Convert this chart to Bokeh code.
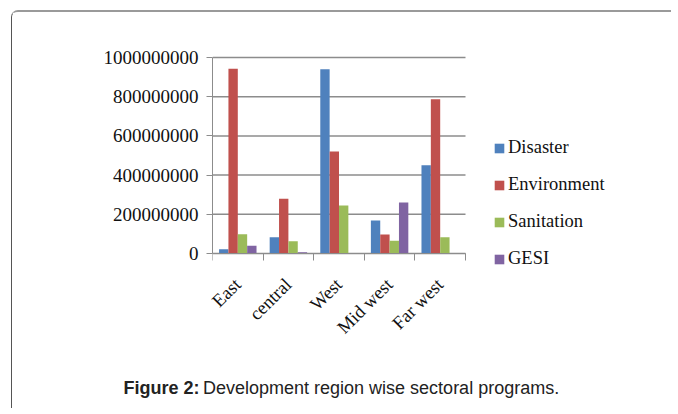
import numpy as np
from bokeh.plotting import figure
from bokeh.layouts import column
from bokeh.models import (Range1d, FixedTicker, Legend, LegendItem, ColumnDataSource, LinearAxis)
from bokeh.core.properties import value
from bokeh.embed import file_html
from bokeh.resources import INLINE

regions = ["East", "central", "West", "Mid west", "Far west"]
series = ["Disaster", "Environment", "Sanitation", "GESI"]
disaster = [22e6, 83e6, 940e6, 168e6, 450e6]
environment = [942e6, 279e6, 520e6, 97e6, 787e6]
sanitation = [98e6, 63e6, 245e6, 65e6, 83e6]
gesi = [39e6, 6e6, 2e6, 260e6, 3e6]
colors = ["#4F81BD", "#C0504D", "#9BBB59", "#8064A2"]
y_ticks = [0, 200000000, 400000000, 600000000, 800000000, 1000000000]
y_tick_labels = ["0", "200000000", "400000000", "600000000", "800000000", "1000000000"]
caption_bold = "Figure 2:"
caption_text = "Development region wise sectoral programs."

values = [disaster, environment, sanitation, gesi]

SERIF = "Liberation Serif"
GRID = "#8c8c8c"
W = 660
H = 358
LEFT = 200
TOP = 41
BOTTOM = 98
PLOT_W = 253          # pixel width of the bar area
PX_PER_UNIT = 196 / max(y_ticks)   # pixel height per value unit
frame_w = W - LEFT
frame_h = H - TOP - BOTTOM
x_end = len(regions) * frame_w / PLOT_W
zero_px = 241 - TOP                  # zero line below frame top
y_end = zero_px / PX_PER_UNIT
y_start = -(frame_h - zero_px) / PX_PER_UNIT

p = figure(width=W, height=H, output_backend="svg", toolbar_location=None,
           x_range=Range1d(0, x_end), y_range=Range1d(y_start, y_end),
           min_border_left=LEFT, min_border_right=0, min_border_top=TOP,
           min_border_bottom=BOTTOM, tools="")
p.frame_align = False
p.outline_line_color = None
p.background_fill_color = "white"
p.border_fill_color = "white"
p.styles = {"margin-left": "11px", "margin-top": "10px",
            "border-left": "1.5px solid #555555", "border-top": "2px solid #9a9a9a",
            "border-top-left-radius": "7px"}

# horizontal grid lines across the bar area only
p.segment(x0=[0] * len(y_ticks), x1=[len(regions)] * len(y_ticks), y0=y_ticks, y1=y_ticks,
          line_color=GRID, line_width=1.5)

w = 0.185
centers = np.arange(len(regions)) + 0.5
items = []
for k, (name, vals, col) in enumerate(zip(series, values, colors)):
    src = ColumnDataSource(dict(x=centers + (k - 1.5) * w, top=vals))
    r = p.vbar(x="x", top="top", width=w, bottom=0, source=src,
               fill_color=col, line_color=None)
    items.append(LegendItem(label=name, renderers=[r]))

# x axis labels (category names at centres), no line / ticks
xa = p.xaxis[0]
xa.ticker = FixedTicker(ticks=list(centers), minor_ticks=[])
xa.major_label_overrides = {float(c): r for c, r in zip(centers, regions)}
xa.axis_line_color = None
xa.major_tick_line_color = None
xa.minor_tick_line_color = None
xa.major_label_orientation = np.pi / 4
xa.major_label_text_font = SERIF
xa.major_label_text_font_size = "18.5px"
xa.major_label_text_color = "#111111"
xa.major_label_standoff = 3

# x axis line at zero with tick marks on category boundaries
xline = LinearAxis(fixed_location=0, bounds=(0, len(regions)),
                   ticker=FixedTicker(ticks=list(centers),
                                      minor_ticks=list(range(len(regions) + 1))),
                   major_label_overrides={float(c): "" for c in centers},
                   major_label_text_font_size="0px",
                   major_tick_out=0, major_tick_in=0,
                   minor_tick_out=7, minor_tick_in=0,
                   minor_tick_line_color=GRID, axis_line_color=GRID)
p.add_layout(xline, "below")

ya = p.yaxis[0]
ya.bounds = (0, max(y_ticks))
ya.ticker = FixedTicker(ticks=y_ticks, minor_ticks=[])
ya.major_label_overrides = {t: l for t, l in zip(y_ticks, y_tick_labels)}
ya.major_tick_out = 6
ya.major_tick_in = 0
ya.major_tick_line_color = GRID
ya.axis_line_color = GRID
ya.major_label_text_font = SERIF
ya.major_label_text_font_size = "19px"
ya.major_label_text_color = "#111111"
ya.major_label_standoff = 8

p.xgrid.visible = False
p.ygrid.visible = False

legend = Legend(items=items, location=(281, 3), padding=0, margin=0,
                border_line_color=None, background_fill_alpha=0,
                glyph_width=12, glyph_height=12, label_standoff=3,
                label_height=20, spacing=16,
                label_text_font=SERIF, label_text_font_size="18.5px",
                label_text_color="#111111")
p.add_layout(legend, "center")

# caption strip
cap = figure(width=W, height=40, output_backend="svg", toolbar_location=None,
             x_range=Range1d(0, W), y_range=Range1d(0, 40), tools="",
             min_border=0, x_axis_type=None, y_axis_type=None)
cap.frame_align = False
cap.outline_line_color = None
cap.xgrid.visible = False
cap.ygrid.visible = False
cap.styles = {"margin-left": "11px", "border-left": "1.5px solid #555555"}
cap.text(x=[187], y=[21], text=[caption_bold], text_align="right",
         text_baseline="alphabetic", text_font=value("Liberation Sans"),
         text_font_style="bold", text_font_size="18px", text_color="#222222")
cap.text(x=[190.5], y=[21], text=[caption_text], text_align="left",
         text_baseline="alphabetic", text_font=value("Liberation Sans"),
         text_font_size="18px", text_color="#222222")

layout = column(p, cap, spacing=0)

open("out.html", "w").write(file_html(layout, INLINE))
